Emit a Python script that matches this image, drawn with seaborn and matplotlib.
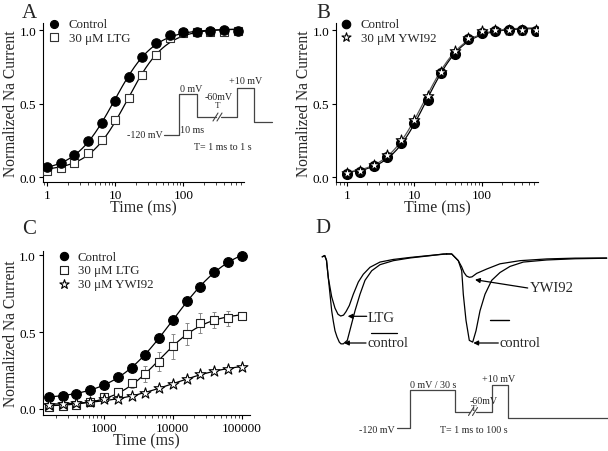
import numpy as np
import pandas as pd
import matplotlib
matplotlib.use("Agg")
import matplotlib.pyplot as plt
import seaborn as sns

# ---------------- data ----------------
# Panels A and B: recovery time (ms)
t_ab = [1, 1.585, 2.512, 3.981, 6.31, 10, 15.85, 25.12, 39.81, 63.1, 100, 158.5, 251.2, 398.1, 631]
a_control = [0.068, 0.097, 0.154, 0.249, 0.367, 0.52, 0.683, 0.819, 0.912, 0.968, 0.99, 0.984, 0.995, 1.0, 0.995]
a_control_err = [0.005, 0.005, 0.01, 0.01, 0.02, 0.03, 0.03, 0.02, 0.02, 0.01, 0.01, 0.01, 0.01, 0.01, 0.01]
a_ltg = [0.045, 0.061, 0.097, 0.165, 0.256, 0.391, 0.538, 0.695, 0.83, 0.943, 0.977, 0.984, 0.99, 0.989, 0.993]
a_ltg_err = [0.005, 0.005, 0.005, 0.01, 0.01, 0.01, 0.01, 0.01, 0.01, 0.01, 0.02, 0.02, 0.02, 0.02, 0.02]

b_control = [0.023, 0.039, 0.075, 0.136, 0.234, 0.368, 0.527, 0.705, 0.84, 0.939, 0.982, 0.995, 0.998, 0.998, 0.995]
b_ywi = [0.03, 0.045, 0.084, 0.152, 0.25, 0.386, 0.552, 0.716, 0.857, 0.948, 0.993, 1.0, 1.0, 1.0, 1.0]

# Panel C: recovery time (ms)
t_c = [158, 251, 398, 631, 1000, 1585, 2512, 3981, 6310, 10000, 15849, 25119, 39811, 63096, 100000]
c_control = [0.08, 0.087, 0.10, 0.123, 0.158, 0.206, 0.264, 0.353, 0.459, 0.58, 0.703, 0.794, 0.887, 0.957, 0.991]
c_control_err = [0.005, 0.005, 0.005, 0.01, 0.01, 0.01, 0.01, 0.02, 0.03, 0.02, 0.02, 0.01, 0.01, 0.01, 0.01]
c_ltg = [0.015, 0.022, 0.026, 0.043, 0.076, 0.108, 0.167, 0.227, 0.307, 0.407, 0.487, 0.556, 0.578, 0.589, 0.606]
c_ltg_err = [0.005, 0.005, 0.005, 0.005, 0.01, 0.01, 0.03, 0.05, 0.06, 0.08, 0.07, 0.065, 0.05, 0.05, 0.02]
c_ywi = [0.028, 0.032, 0.039, 0.043, 0.063, 0.065, 0.087, 0.104, 0.134, 0.162, 0.195, 0.225, 0.249, 0.26, 0.275]
c_ywi_err = [0.005, 0.005, 0.005, 0.005, 0.01, 0.01, 0.01, 0.01, 0.01, 0.01, 0.01, 0.01, 0.01, 0.01, 0.01]

# Panel D: current traces (time in arbitrary ms units, normalized current)
d1_t_control = [-0.05, 0.2, 0.38, 0.56, 0.9, 1.06, 1.23, 1.43, 1.66, 1.83, 2.06, 2.46, 2.8, 3.23, 3.73, 4.23, 4.9, 5.73, 7.06, 8.73, 10.73, 12.06, 12.4]
d1_i_control = [-0.01, 0.005, -0.05, -0.25, -0.63, -0.75, -0.86, -0.93, -0.99, -1.01, -1.01, -0.97, -0.82, -0.63, -0.44, -0.28, -0.17, -0.10, -0.054, -0.023, 0.003, 0.023, 0.023]
d1_t_ltg = [-0.05, 0.2, 0.38, 0.56, 0.9, 1.23, 1.53, 1.8, 2.08, 2.33, 2.66, 3.06, 3.56, 4.06, 4.73, 5.73, 7.06, 8.73, 10.73, 12.4]
d1_i_ltg = [-0.01, 0.005, -0.05, -0.25, -0.47, -0.60, -0.67, -0.69, -0.68, -0.64, -0.57, -0.44, -0.30, -0.21, -0.13, -0.07, -0.04, -0.017, 0.006, 0.023]
d2_t_control = [12.4, 12.9, 13.56, 13.9, 13.98, 14.06, 14.33, 14.66, 15.0, 15.33, 15.73, 16.23, 16.9, 17.73, 18.73, 20.06, 22.4, 25.23, 28.4]
d2_i_control = [0.023, 0.023, -0.054, -0.17, -0.30, -0.44, -0.74, -0.97, -0.99, -0.86, -0.63, -0.44, -0.28, -0.19, -0.12, -0.07, -0.046, -0.032, -0.026]
d2_t_ywi = [12.4, 12.9, 13.56, 13.9, 14.13, 14.38, 14.66, 14.93, 15.4, 16.4, 17.73, 19.73, 22.4, 25.23, 28.4]
d2_i_ywi = [0.023, 0.023, -0.054, -0.126, -0.19, -0.23, -0.245, -0.24, -0.2, -0.15, -0.09, -0.054, -0.034, -0.025, -0.023]

# ---------------- style ----------------
sns.set_style("ticks")
plt.rcParams['font.family'] = ['Liberation Serif', 'DejaVu Serif']
plt.rcParams['xtick.direction'] = 'out'
plt.rcParams['ytick.direction'] = 'out'

W, H = 608, 452
fig = plt.figure(figsize=(W / 100, H / 100), dpi=100)


def px_axes(x0, y0, x1, y1):
    return fig.add_axes([x0 / W, 1 - y1 / H, (x1 - x0) / W, (y1 - y0) / H])


def fit_curve(t, y, tt):
    lt = np.log10(np.asarray(t, float))
    y = np.asarray(y, float)
    best = None
    for x50 in np.linspace(lt.min() - 0.5, lt.max() + 1.0, 160):
        for n in np.linspace(0.3, 4.0, 75):
            f = 1.0 / (1.0 + 10 ** (n * (x50 - lt)))
            A = np.vstack([np.ones_like(f), f]).T
            coef = np.linalg.lstsq(A, y, rcond=None)[0]
            r = np.sum((A @ coef - y) ** 2)
            if best is None or r < best[0]:
                best = (r, x50, n, coef)
    _, x50, n, coef = best
    ltt = np.log10(tt)
    return coef[0] + coef[1] / (1.0 + 10 ** (n * (x50 - ltt)))


TICK_FS = 9.5
LAB_FS = 11.2


def style_axes(ax, xlim, ylim, xticks, xticklabels):
    ax.set_xscale('log')
    ax.set_xlim(*xlim)
    ax.set_ylim(*ylim)
    ax.set_xticks(xticks)
    ax.set_xticklabels(xticklabels)
    ax.set_yticks([0.0, 0.5, 1.0])
    ax.set_yticklabels(['0.0', '0.5', '1.0'])
    ax.tick_params(axis='both', which='major', length=3, width=0.8, labelsize=TICK_FS, pad=2, colors='black')
    ax.tick_params(axis='x', which='minor', length=1.8, width=0.6)
    for s in ['top', 'right']:
        ax.spines[s].set_visible(False)
    for s in ['left', 'bottom']:
        ax.spines[s].set_linewidth(0.8)
        ax.spines[s].set_color('black')
    ax.set_xlabel('Time (ms)', fontsize=LAB_FS + 0.3, labelpad=-1)
    ax.set_ylabel('Normalized Na Current', fontsize=LAB_FS, labelpad=0)
    ax.set_facecolor('none')


def series(ax, t, y, err, marker, ms, face, edge, label, fit=True, lcolor='black'):
    t = np.asarray(t, float)
    df = pd.DataFrame({'t': t, 'y': y})
    if fit:
        tt = np.logspace(np.log10(t.min()), np.log10(t.max()), 300)
        yy = fit_curve(t, y, tt)
        sns.lineplot(x=tt, y=yy, ax=ax, color=lcolor, lw=0.9, zorder=2, estimator=None)
    if err is not None:
        ax.errorbar(t, y, yerr=err, fmt='none', ecolor='#888888', elinewidth=0.7, capsize=1.6, capthick=0.7, zorder=1)
    sns.scatterplot(data=df, x='t', y='y', ax=ax, marker=marker, s=ms ** 2, color=face,
                    edgecolor=edge, linewidth=0.8, zorder=3, label=label)


def legend(ax, x, y, fs=9.3, order=None):
    h, l = ax.get_legend_handles_labels()
    if order is not None:
        h = [h[i] for i in order]
        l = [l[i] for i in order]
    return ax.legend(h, l, loc='upper left', bbox_to_anchor=(x, y), frameon=False, fontsize=fs,
                     handlelength=1.0, handletextpad=0.6, labelspacing=0.12, borderpad=0, borderaxespad=0,
                     markerscale=0.85)


# ---------------- Panel A ----------------
axA = px_axes(43, 24, 244, 183)
series(axA, t_ab, a_ltg, a_ltg_err, 's', 6.4, 'white', '#333333', '30 μM LTG')
series(axA, t_ab, a_control, a_control_err, 'o', 6.8, 'black', 'black', 'Control')
style_axes(axA, (0.865, 781), (-0.032, 1.048), [1, 10, 100], ['1', '10', '100'])
legend(axA, 0.025, 1.03, order=[1, 0])

# ---------------- Panel B ----------------
axB = px_axes(336, 24, 538, 183)
series(axB, t_ab, b_control, None, 'o', 7.2, 'black', 'black', 'Control', lcolor='black')
series(axB, t_ab, b_ywi, None, '*', 8.0, 'white', 'black', '30 μM YWI92', lcolor='#555555')
style_axes(axB, (0.694, 682), (-0.032, 1.048), [1, 10, 100], ['1', '10', '100'])
legend(axB, 0.02, 1.03)

# ---------------- Panel C ----------------
axC = px_axes(42.7, 251.7, 250, 416)
series(axC, t_c, c_control, c_control_err, 'o', 7.0, 'black', 'black', 'Control')
series(axC, t_c, c_ltg, c_ltg_err, 's', 6.4, 'white', '#222222', '30 μM LTG')
series(axC, t_c, c_ywi, c_ywi_err, '*', 8.2, 'white', 'black', '30 μM YWI92')
style_axes(axC, (128.6, 132000), (-0.039, 1.028), [1000, 10000, 100000], ['1000', '10000', '100000'])
legend(axC, 0.07, 1.0)

# ---------------- Panel D traces ----------------
axD = px_axes(300, 240, 608, 360)
for tt_, ii_ in [(d1_t_control, d1_i_control), (d1_t_ltg, d1_i_ltg),
                 (d2_t_control, d2_i_control), (d2_t_ywi, d2_i_ywi)]:
    sns.lineplot(x=tt_, y=ii_, ax=axD, color='black', lw=0.9, estimator=None, sort=False)
axD.set_xlim(-2.27, 28.53)
axD.set_ylim(-1.184, 0.195)
axD.axis('off')

# ---------------- overlay: labels, protocols, annotations ----------------
ov = fig.add_axes([0, 0, 1, 1])
ov.set_xlim(0, W)
ov.set_ylim(H, 0)
ov.axis('off')

for txt, x, y in [('A', 22, 13), ('B', 316, 13), ('C', 22, 230), ('D', 315, 229)]:
    ov.text(x, y, txt, fontsize=15, ha='left', va='center')

pc = '#444444'
PFS = 7.2
# protocol A
ov.plot([164, 179, 179, 197.3, 197.3, 215.5], [136, 136, 95, 95, 118, 118], color=pc, lw=0.9)
ov.plot([220.5, 236.7, 236.7, 254, 254, 271.7], [118, 118, 89.3, 89.3, 123.3, 123.3], color=pc, lw=0.9)
ov.plot([213, 218], [122, 114], color=pc, lw=0.8)
ov.plot([217, 222], [122, 114], color=pc, lw=0.8)
ov.text(163, 136, '-120 mV', fontsize=PFS, ha='right', va='center')
ov.text(180, 131, '10 ms', fontsize=PFS, ha='left', va='center')
ov.text(179.5, 89, '0 mV', fontsize=PFS, ha='left', va='center')
ov.text(205, 97.0, '-60mV', fontsize=PFS, ha='left', va='center')
ov.text(217.5, 106, 'T', fontsize=6.5, ha='center', va='center')
ov.text(229, 81.3, '+10 mV', fontsize=PFS, ha='left', va='center')
ov.text(194, 147.3, 'T= 1 ms to 1 s', fontsize=PFS, ha='left', va='center')

# protocol D
ov.plot([396.7, 410, 410, 455, 455, 470], [429.3, 429.3, 391, 391, 412.7, 412.7], color=pc, lw=0.9)
ov.plot([476, 491.7, 491.7, 508.3, 508.3, 608], [412.7, 412.7, 385.7, 385.7, 419.3, 419.3], color=pc, lw=0.9)
ov.plot([468.5, 473.5], [416.5, 408.5], color=pc, lw=0.8)
ov.plot([472.5, 477.5], [416.5, 408.5], color=pc, lw=0.8)
ov.text(395, 431, '-120 mV', fontsize=PFS, ha='right', va='center')
ov.text(410, 385.7, '0 mV / 30 s', fontsize=PFS, ha='left', va='center')
ov.text(470, 401.5, '-60mV', fontsize=PFS, ha='left', va='center')
ov.text(474, 409.5, 'T', fontsize=6.5, ha='center', va='center')
ov.text(481.7, 380, '+10 mV', fontsize=PFS, ha='left', va='center')
ov.text(440, 431, 'T= 1 ms to 100 s', fontsize=PFS, ha='left', va='center')

# D annotations
DFS = 10.5
arrow = dict(arrowstyle='-|>', color='black', lw=0.9, mutation_scale=7, shrinkA=0, shrinkB=0)
ov.annotate('', xy=(347.7, 317.3), xytext=(366.7, 317.3), arrowprops=arrow)
ov.annotate('', xy=(344, 344), xytext=(366, 344), arrowprops=arrow)
ov.annotate('', xy=(475, 280.7), xytext=(527.7, 289), arrowprops=arrow)
ov.annotate('', xy=(473.3, 344), xytext=(498.3, 344), arrowprops=arrow)
ov.text(368, 318.5, 'LTG', fontsize=DFS, ha='left', va='center')
ov.text(368, 344, 'control', fontsize=DFS, ha='left', va='center')
ov.text(530, 288.5, 'YWI92', fontsize=DFS, ha='left', va='center')
ov.text(500, 344, 'control', fontsize=DFS, ha='left', va='center')
ov.plot([370.7, 396.7], [334.3, 334.3], color='black', lw=0.9)
ov.plot([490, 509.3], [320.7, 320.7], color='black', lw=1.0)

fig.savefig('out.png', dpi=100)
